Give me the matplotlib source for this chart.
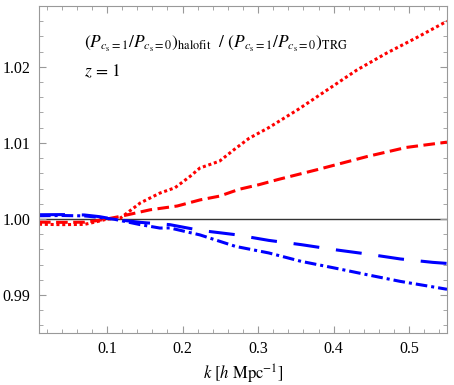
import matplotlib
matplotlib.use("Agg")
import matplotlib.pyplot as plt
from matplotlib.ticker import MultipleLocator

plt.rcParams['font.family'] = ['Liberation Serif', 'DejaVu Serif']
plt.rcParams['mathtext.fontset'] = 'stix'

# data
k_red_dot = [0.01, 0.04, 0.07, 0.085, 0.1, 0.118, 0.144, 0.17, 0.19, 0.21, 0.223, 0.249, 0.268, 0.288,
             0.314, 0.353, 0.392, 0.431, 0.47, 0.509, 0.55]
v_red_dot = [0.99930, 0.99925, 0.99928, 0.9996, 0.99998, 1.00013, 1.0021, 1.0034, 1.0041, 1.0056, 1.0067,
             1.0076, 1.0091, 1.0106, 1.0120, 1.0144, 1.0170, 1.0196, 1.0218, 1.0238, 1.0260]

k_red_dash = [0.01, 0.04, 0.07, 0.085, 0.1, 0.118, 0.157, 0.193, 0.223, 0.249, 0.275, 0.301, 0.327,
              0.379, 0.444, 0.496, 0.55]
v_red_dash = [0.99958, 0.99955, 0.99957, 0.99975, 1.0000, 1.00034, 1.0012, 1.0017, 1.0025, 1.0030,
              1.0039, 1.0045, 1.0052, 1.0065, 1.0082, 1.0094, 1.0101]

k_blue_dash = [0.01, 0.04, 0.07, 0.09, 0.11, 0.144, 0.183, 0.223, 0.27, 0.314, 0.357, 0.401, 0.444,
               0.488, 0.531, 0.55]
v_blue_dash = [1.00055, 1.00057, 1.00052, 1.0003, 0.99995, 0.99955, 0.99925, 0.9985, 0.99793, 0.99718,
               0.99662, 0.99596, 0.99539, 0.99474, 0.99429, 0.99415]

k_blue_dd = [0.01, 0.04, 0.07, 0.09, 0.11, 0.144, 0.17, 0.183, 0.223, 0.27, 0.314, 0.357, 0.401, 0.444,
             0.488, 0.54, 0.55]
v_blue_dd = [1.00042, 1.00045, 1.00040, 1.0002, 0.99995, 0.99925, 0.9988, 0.99882, 0.9979, 0.99639,
             0.99553, 0.99442, 0.99355, 0.99267, 0.99179, 0.99092, 0.99075]

fig = plt.figure(figsize=(4.54, 3.85), dpi=100)
ax = fig.add_axes([39/454, 1 - 333/385, (447-39)/454, (333-6)/385])

ax.axhline(1.0, color='#333333', lw=1.0, zorder=1)
ax.plot(k_red_dot, v_red_dot, color='red', lw=2.2, ls=(0, (1.0, 0.9)))
ax.plot(k_red_dash, v_red_dash, color='red', lw=2.2, ls=(0, (3.8, 1.8)))
ax.plot(k_blue_dash, v_blue_dash, color='blue', lw=2.2, ls=(0, (8.5, 5.5)))
ax.plot(k_blue_dd, v_blue_dd, color='blue', lw=2.2, ls=(0, (3.8, 1.3, 1.0, 1.3)))

ax.set_xlim(0.01, 0.55)
ax.set_ylim(0.985, 1.028)
ax.xaxis.set_major_locator(MultipleLocator(0.1))
ax.xaxis.set_minor_locator(MultipleLocator(0.02))
ax.yaxis.set_major_locator(MultipleLocator(0.01))
ax.yaxis.set_minor_locator(MultipleLocator(0.002))
ax.set_xticks([0.1, 0.2, 0.3, 0.4, 0.5])
ax.set_xticklabels(['0.1', '0.2', '0.3', '0.4', '0.5'])
ax.set_yticks([0.99, 1.0, 1.01, 1.02])
ax.set_yticklabels(['0.99', '1.00', '1.01', '1.02'])

for s in ax.spines.values():
    s.set_color('#999999')
    s.set_linewidth(0.8)
ax.tick_params(which='both', direction='in', top=True, right=True, color='#999999', labelsize=11.5,
               labelcolor='black')
ax.tick_params(which='major', length=5, width=0.8, pad=6)
ax.tick_params(which='minor', length=3, width=0.6)

ax.set_xlabel(r'$k\ [h\ \mathrm{Mpc}^{-1}]$', fontsize=12, labelpad=4)

ax.text(0.11, 0.885,
        r'$(P_{c_{\mathrm{s}}=1}/P_{c_{\mathrm{s}}=0})_{\mathrm{halofit}}\ \ /\ (P_{c_{\mathrm{s}}=1}/P_{c_{\mathrm{s}}=0})_{\mathrm{TRG}}$',
        transform=ax.transAxes, fontsize=12.5, va='center', ha='left')
ax.text(0.11, 0.8, r'$z\,=\,1$', transform=ax.transAxes, fontsize=12.5, va='center', ha='left')

fig.savefig('out.png', dpi=100)
